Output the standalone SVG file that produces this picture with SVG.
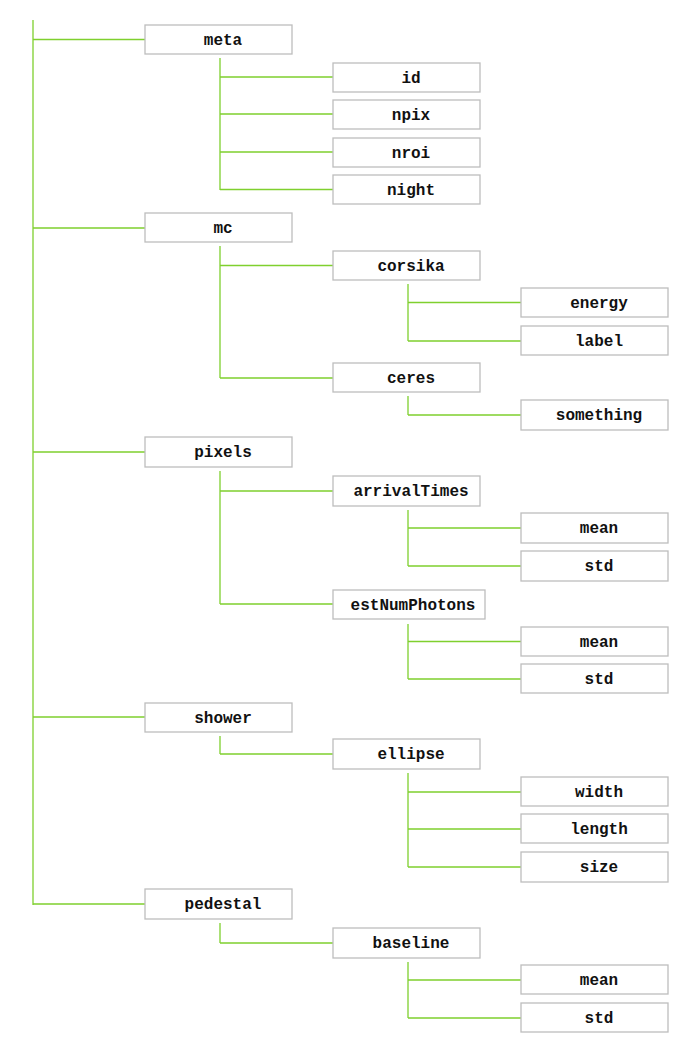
<svg xmlns="http://www.w3.org/2000/svg" width="683" height="1045" viewBox="0 0 683 1045">
<style>
.b{fill:#fff;stroke:#bdbdbd;stroke-width:1.3}
.t{font-family:"Liberation Mono",monospace;font-weight:bold;font-size:16px;fill:#111;text-anchor:middle}
.c{fill:none;stroke:#7fd02e;stroke-width:1.3}
</style>
<rect width="683" height="1045" fill="#fff"/>
<g id="connectors">
<path class="c" d="M33 20V905M33 39.5H145M33 228H145M33 452H145M33 717H145M33 904H145"/>
<path class="c" d="M220 58V190M220 77H333M220 114H333M220 152H333M220 189.5H333"/>
<path class="c" d="M220 246V378M220 265.5H333M220 378H333"/>
<path class="c" d="M408 284V341M408 302.5H521M408 341H521"/>
<path class="c" d="M408 396V415M408 415H521"/>
<path class="c" d="M220 471V604M220 491H333M220 604H333"/>
<path class="c" d="M408 510V566M408 528H521M408 566H521"/>
<path class="c" d="M408 624V679M408 641.5H521M408 679H521"/>
<path class="c" d="M220 736V754M220 754H333"/>
<path class="c" d="M408 773V867M408 792H521M408 829H521M408 867H521"/>
<path class="c" d="M220 923V943M220 943H333"/>
<path class="c" d="M408 962V1018M408 980H521M408 1018H521"/>
</g>
<g id="meta"><rect class="b" x="145" y="25" width="147" height="29"/><text class="t" x="223" y="45">meta</text></g>
<g id="id"><rect class="b" x="333" y="63" width="147" height="29"/><text class="t" x="411" y="83">id</text></g>
<g id="npix"><rect class="b" x="333" y="100" width="147" height="29"/><text class="t" x="411" y="120">npix</text></g>
<g id="nroi"><rect class="b" x="333" y="138" width="147" height="29"/><text class="t" x="411" y="158">nroi</text></g>
<g id="night"><rect class="b" x="333" y="175" width="147" height="29"/><text class="t" x="411" y="195">night</text></g>
<g id="mc"><rect class="b" x="145" y="213" width="147" height="29"/><text class="t" x="223" y="233">mc</text></g>
<g id="corsika"><rect class="b" x="333" y="251" width="147" height="29"/><text class="t" x="411" y="271">corsika</text></g>
<g id="energy"><rect class="b" x="521" y="288" width="147" height="29"/><text class="t" x="599" y="308">energy</text></g>
<g id="label"><rect class="b" x="521" y="326" width="147" height="29"/><text class="t" x="599" y="346">label</text></g>
<g id="ceres"><rect class="b" x="333" y="363" width="147" height="29"/><text class="t" x="411" y="383">ceres</text></g>
<g id="something"><rect class="b" x="521" y="400" width="147" height="30"/><text class="t" x="599" y="420">something</text></g>
<g id="pixels"><rect class="b" x="145" y="437" width="147" height="30"/><text class="t" x="223" y="457">pixels</text></g>
<g id="arrivalTimes"><rect class="b" x="333" y="476" width="147" height="30"/><text class="t" x="411" y="496">arrivalTimes</text></g>
<g id="pixels-arrivalTimes-mean"><rect class="b" x="521" y="513" width="147" height="30"/><text class="t" x="599" y="533">mean</text></g>
<g id="pixels-arrivalTimes-std"><rect class="b" x="521" y="551" width="147" height="30"/><text class="t" x="599" y="571">std</text></g>
<g id="estNumPhotons"><rect class="b" x="333" y="590" width="152" height="29"/><text class="t" x="413" y="610">estNumPhotons</text></g>
<g id="pixels-estNumPhotons-mean"><rect class="b" x="521" y="627" width="147" height="29"/><text class="t" x="599" y="647">mean</text></g>
<g id="pixels-estNumPhotons-std"><rect class="b" x="521" y="664" width="147" height="29"/><text class="t" x="599" y="684">std</text></g>
<g id="shower"><rect class="b" x="145" y="703" width="147" height="29"/><text class="t" x="223" y="723">shower</text></g>
<g id="ellipse"><rect class="b" x="333" y="739" width="147" height="30"/><text class="t" x="411" y="759">ellipse</text></g>
<g id="width"><rect class="b" x="521" y="777" width="147" height="29"/><text class="t" x="599" y="797">width</text></g>
<g id="length"><rect class="b" x="521" y="814" width="147" height="29"/><text class="t" x="599" y="834">length</text></g>
<g id="size"><rect class="b" x="521" y="852" width="147" height="30"/><text class="t" x="599" y="872">size</text></g>
<g id="pedestal"><rect class="b" x="145" y="889" width="147" height="30"/><text class="t" x="223" y="909">pedestal</text></g>
<g id="baseline"><rect class="b" x="333" y="928" width="147" height="30"/><text class="t" x="411" y="948">baseline</text></g>
<g id="pedestal-baseline-mean"><rect class="b" x="521" y="965" width="147" height="29"/><text class="t" x="599" y="985">mean</text></g>
<g id="pedestal-baseline-std"><rect class="b" x="521" y="1003" width="147" height="29"/><text class="t" x="599" y="1023">std</text></g>
</svg>
